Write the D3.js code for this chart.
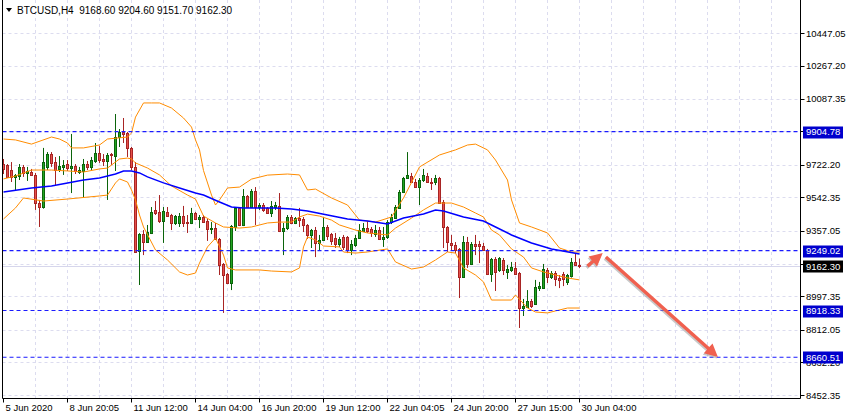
<!DOCTYPE html>
<html>
<head>
<meta charset="utf-8">
<script src="https://cdn.jsdelivr.net/npm/d3@7"></script>
<style>
  body { margin: 0; background: #fff; }
  svg { display: block; font-family: "Liberation Sans", Arial, sans-serif; }
</style>
</head>
<body>
<script>
var w = 846;
var h = 419;

var title = "BTCUSD,H4  9168.60 9204.60 9151.70 9162.30";

// H4 bars: open, high, low, close
var candles = [
  [9726,9754,9671,9699],[9721,9726,9649,9655],[9693,9737,9627,9655],[9655,9671,9583,9666],
  [9660,9726,9638,9710],[9710,9721,9655,9677],[9677,9710,9633,9688],[9682,9699,9660,9666],
  [9666,9677,9473,9511],[9511,9528,9379,9489],[9489,9815,9480,9737],[9710,9792,9693,9781],
  [9781,9792,9710,9732],[9737,9765,9610,9693],[9699,9770,9682,9715],[9710,9748,9666,9721],
  [9726,9748,9688,9704],[9704,9892,9566,9715],[9715,9726,9671,9688],[9682,9710,9671,9693],
  [9688,9754,9544,9726],[9726,9743,9693,9710],[9710,9765,9693,9748],[9743,9842,9732,9787],
  [9787,9825,9732,9748],[9754,9781,9715,9743],[9743,9787,9528,9776],[9781,9787,9721,9776],
  [9770,10002,9688,9875],[9875,9919,9820,9903],[9903,9980,9842,9892],[9897,9903,9765,9815],
  [9815,9820,9693,9710],[9710,9737,9236,9241],[9246,9345,9059,9340],[9340,9362,9224,9296],
  [9296,9390,9291,9351],[9346,9489,9340,9462],[9473,9522,9445,9456],[9462,9555,9401,9412],
  [9412,9489,9291,9467],[9462,9489,9434,9440],[9445,9451,9362,9401],[9401,9445,9390,9440],
  [9401,9456,9379,9440],[9440,9495,9379,9401],[9406,9445,9346,9401],[9401,9484,9395,9456],
  [9456,9462,9417,9423],[9423,9445,9373,9434],[9434,9445,9401,9406],[9412,9423,9302,9368],
  [9368,9406,9340,9373],[9373,9401,9307,9313],[9313,9318,9114,9169],[9175,9180,8905,9114],
  [9120,9125,9064,9070],[9070,9390,9031,9384],[9379,9489,9357,9484],[9484,9489,9384,9390],
  [9390,9588,9384,9550],[9550,9555,9484,9489],[9489,9588,9484,9577],[9577,9599,9390,9489],
  [9489,9511,9473,9500],[9500,9511,9462,9473],[9484,9489,9451,9456],[9456,9522,9434,9495],
  [9489,9517,9473,9500],[9495,9566,9351,9357],[9357,9401,9224,9373],[9373,9445,9362,9434],
  [9434,9445,9395,9401],[9401,9434,9395,9428],[9428,9484,9379,9417],[9423,9434,9351,9390],
  [9390,9395,9313,9335],[9335,9368,9263,9362],[9362,9379,9213,9291],[9291,9335,9252,9307],
  [9307,9434,9302,9379],[9379,9390,9307,9329],[9340,9346,9280,9302],[9318,9346,9263,9285],
  [9285,9324,9269,9313],[9324,9335,9252,9269],[9324,9329,9235,9252],[9252,9307,9224,9285],
  [9280,9335,9269,9318],[9318,9395,9313,9362],[9357,9401,9351,9373],[9373,9412,9346,9357],
  [9368,9379,9324,9346],[9340,9390,9324,9362],[9362,9379,9307,9313],[9313,9379,9269,9324],
  [9324,9417,9313,9406],[9406,9451,9395,9434],[9428,9500,9425,9489],[9484,9583,9480,9572],
  [9572,9655,9566,9649],[9649,9792,9644,9666],[9660,9677,9622,9627],[9627,9644,9594,9599],
  [9599,9649,9500,9638],[9638,9699,9627,9666],[9660,9677,9622,9627],[9627,9649,9583,9622],
  [9627,9666,9610,9649],[9649,9655,9506,9511],[9517,9528,9263,9379],[9379,9384,9241,9296],
  [9291,9335,9252,9280],[9280,9296,9235,9252],[9258,9263,8987,9103],[9103,9329,9098,9296],
  [9296,9324,9153,9175],[9175,9296,9169,9285],[9285,9335,9224,9274],[9285,9302,9180,9274],
  [9274,9291,9246,9252],[9252,9258,9114,9120],[9120,9208,9076,9202],[9202,9213,9026,9131],
  [9142,9213,9131,9208],[9197,9208,9114,9142],[9131,9169,9092,9147],[9142,9186,9131,9158],
  [9153,9186,9114,9120],[9125,9131,8822,8932],[8932,8982,8888,8943],[8938,9031,8932,8971],
  [8971,8982,8932,8943],[8954,9087,8949,9048],[9042,9076,9026,9053],[9042,9175,9037,9147],
  [9142,9153,9070,9103],[9103,9136,9092,9125],[9125,9136,9053,9092],[9098,9114,9042,9087],
  [9120,9131,9053,9092],[9076,9120,9059,9114],[9109,9208,9100,9186],[9186,9230,9164,9169],
  [9168.60,9204.60,9151.70,9162.30]
];

// indicator lines as [bar, price]
var bbUpper = [[0,9864],[3,9859],[7,9836],[12,9875],[14,9864],[16,9842],[17,9815],[20,9815],
  [24,9831],[26,9864],[31,9875],[32,9897],[33,9985],[35,10063],[37,10063],[39,10063],[42,10035],
  [45,9980],[47,9930],[48,9859],[49,9804],[50,9690],[52,9555],[53,9500],[54,9528],[56,9594],
  [59,9599],[62,9643],[66,9665],[71,9671],[74,9666],[76,9583],[78,9588],[82,9539],[86,9500],
  [89,9417],[93,9406],[97,9434],[100,9539],[104,9710],[109,9776],[113,9804],[116,9831],
  [118,9836],[121,9804],[123,9748],[126,9638],[127,9528],[129,9401],[132,9379],[136,9346],
  [139,9263],[142,9241],[144,9241]];
var bbMiddle = [[0,9644],[3,9660],[7,9693],[12,9693],[16,9688],[20,9682],[24,9699],[26,9704],
  [29,9754],[31,9759],[32,9754],[33,9732],[36,9704],[39,9666],[42,9605],[46,9555],[48,9533],
  [50,9439],[53,9401],[55,9379],[59,9373],[62,9379],[66,9401],[69,9406],[72,9406],[74,9434],
  [76,9450],[79,9439],[82,9417],[84,9390],[88,9362],[91,9346],[96,9335],[98,9373],[102,9428],
  [105,9473],[108,9511],[112,9511],[115,9489],[118,9456],[120,9434],[122,9362],[124,9335],
  [127,9258],[130,9213],[132,9153],[135,9131],[138,9114],[141,9098],[144,9087]];
var bbLower = [[0,9423],[3,9484],[5,9539],[10,9522],[16,9533],[24,9550],[26,9555],[28,9622],
  [29,9644],[31,9627],[32,9583],[33,9528],[34,9445],[35,9379],[38,9252],[41,9197],[44,9131],
  [46,9114],[48,9125],[49,9180],[51,9269],[53,9318],[55,9224],[56,9153],[58,9142],[64,9142],
  [67,9136],[72,9131],[74,9153],[75,9269],[76,9324],[78,9307],[80,9274],[84,9269],[85,9241],
  [88,9235],[91,9241],[96,9258],[98,9186],[102,9147],[105,9158],[108,9197],[111,9241],
  [113,9235],[115,9153],[118,9114],[120,9076],[122,8976],[127,8976],[128,9004],[131,8932],
  [133,8910],[136,8905],[138,8916],[141,8932],[144,8932]];
var maLine = [[0,9572],[7,9594],[12,9605],[16,9622],[20,9638],[24,9649],[28,9671],[30,9688],
  [32,9688],[34,9677],[36,9655],[40,9622],[44,9594],[48,9566],[50,9555],[54,9517],[57,9489],
  [60,9484],[64,9484],[68,9484],[72,9478],[76,9467],[81,9445],[86,9423],[91,9412],[96,9395],
  [100,9428],[105,9451],[108,9473],[110,9467],[115,9434],[120,9412],[122,9390],[127,9335],
  [132,9291],[137,9258],[144,9230]];

// 9907.50 sits fully under the 9904.78 box, so only its grid line shows
var priceTicks = [10447.05, 10267.20, 10087.35, 9907.50, 9722.20, 9542.35, 9357.05,
  9177.20, 8997.35, 8812.05, 8632.20, 8452.35];
var hiddenTicks = [9907.50];
var levels = [9904.78, 9249.02, 8918.33, 8660.51];
var lastPrice = 9162.30;

var dateBars = [0, 16, 32, 48, 64, 80, 96, 112, 128, 144];
var dateLabels = ["5 Jun 2020", "8 Jun 20:05", "11 Jun 12:00", "14 Jun 04:00", "16 Jun 20:00",
  "19 Jun 12:00", "22 Jun 04:05", "24 Jun 20:00", "27 Jun 15:00", "30 Jun 04:00"];

// hand-drawn arrows, [bar, price] from -> to
var arrows = [
  [[146, 9163], [149.8, 9235]],
  [[150.6, 9213], [178.6, 8662]]
];

var x = d3.scaleLinear().domain([0, 199]).range([3.5, 799.5]);
var y = d3.scaleLinear().domain([8452.35, 10447.05]).range([395, 33.3]);

var plotRight = 800.5, plotBottom = 398.5, plotLeft = 2.5;

var svg = d3.select("body").append("svg")
    .attr("width", w)
    .attr("height", h);

svg.append("defs").append("clipPath").attr("id", "plot")
  .append("rect").attr("x", plotLeft).attr("y", 0)
  .attr("width", plotRight - plotLeft).attr("height", plotBottom);

// grid
var grid = svg.append("g").attr("stroke", "#dcdcef").attr("stroke-dasharray", "3,3");
grid.selectAll("line.v")
  .data(d3.range(8, 200, 8))
  .enter().append("line")
  .attr("x1", d => x(d)).attr("x2", d => x(d))
  .attr("y1", 0).attr("y2", plotBottom);
grid.selectAll("line.h")
  .data(priceTicks)
  .enter().append("line")
  .attr("x1", plotLeft).attr("x2", plotRight)
  .attr("y1", d => Math.round(y(d)) + 0.5).attr("y2", d => Math.round(y(d)) + 0.5);

// bid line
svg.append("line")
  .attr("x1", plotLeft).attr("x2", plotRight)
  .attr("y1", Math.round(y(lastPrice)) + 0.5).attr("y2", Math.round(y(lastPrice)) + 0.5)
  .attr("stroke", "#d6d6ec");

var plot = svg.append("g").attr("clip-path", "url(#plot)");

// candles
var bar = plot.selectAll("g.bar")
  .data(candles)
  .enter().append("g");

bar.append("line")
  .attr("x1", (d, i) => x(i)).attr("x2", (d, i) => x(i))
  .attr("y1", d => y(d[1])).attr("y2", d => y(d[2]))
  .attr("stroke", d => d[3] >= d[0] ? "#0b640b" : "#a82424");

bar.append("rect")
  .attr("x", (d, i) => x(i) - 1)
  .attr("width", 2)
  .attr("y", d => Math.round(y(Math.max(d[0], d[3]))) + 0.5)
  .attr("height", d => Math.max(Math.round(y(Math.min(d[0], d[3]))) - Math.round(y(Math.max(d[0], d[3]))), 1))
  .attr("fill", d => d[3] >= d[0] ? "#22a622" : "#e5504a")
  .attr("stroke", d => d[3] >= d[0] ? "#0b640b" : "#a82424");

// indicators
var line = d3.line().x(d => x(d[0])).y(d => y(d[1]));

[bbUpper, bbMiddle, bbLower].forEach(function(s) {
  plot.append("path")
    .attr("d", line(s))
    .attr("fill", "none")
    .attr("stroke", "#ff8c00")
    .attr("stroke-width", 1);
});

plot.append("path")
  .attr("d", line(maLine))
  .attr("fill", "none")
  .attr("stroke", "#0000ff")
  .attr("stroke-width", 1.5);

// horizontal levels
plot.selectAll("line.level")
  .data(levels)
  .enter().append("line")
  .attr("x1", plotLeft).attr("x2", plotRight)
  .attr("y1", d => y(d)).attr("y2", d => y(d))
  .attr("stroke", "#1a1aff")
  .attr("stroke-width", 1.2)
  .attr("stroke-dasharray", "4,3");

// arrows
function arrowPath(a) {
  var x1 = x(a[0][0]), y1 = y(a[0][1]), x2 = x(a[1][0]), y2 = y(a[1][1]);
  var ang = Math.atan2(y2 - y1, x2 - x1);
  var hl = 13, hw = 6.5, sw = 1.7;
  var bx = x2 - hl * Math.cos(ang), by = y2 - hl * Math.sin(ang);
  var nx = -Math.sin(ang), ny = Math.cos(ang);
  return "M" + (x1 + nx * sw) + "," + (y1 + ny * sw) +
    "L" + (bx + nx * sw) + "," + (by + ny * sw) +
    "L" + (bx + nx * hw) + "," + (by + ny * hw) +
    "L" + x2 + "," + y2 +
    "L" + (bx - nx * hw) + "," + (by - ny * hw) +
    "L" + (bx - nx * sw) + "," + (by - ny * sw) +
    "L" + (x1 - nx * sw) + "," + (y1 - ny * sw) + "Z";
}
arrows.forEach(function(a) {
  plot.append("path").attr("d", arrowPath(a))
    .attr("transform", "translate(-1,1.5)")
    .attr("fill", "#9a9a9a").attr("opacity", 0.55);
  plot.append("path").attr("d", arrowPath(a))
    .attr("fill", "#f0604f");
});

// frame
svg.append("path")
  .attr("d", "M" + plotLeft + ",0V" + plotBottom + "H" + plotRight + "V0")
  .attr("fill", "none")
  .attr("stroke", "#000");

// right axis
var ra = svg.append("g");
ra.selectAll("line")
  .data(priceTicks)
  .enter().append("line")
  .attr("x1", plotRight).attr("x2", plotRight + 4)
  .attr("y1", d => Math.round(y(d)) + 0.5).attr("y2", d => Math.round(y(d)) + 0.5)
  .attr("stroke", "#000");
ra.selectAll("text")
  .data(priceTicks.filter(d => hiddenTicks.indexOf(d) < 0))
  .enter().append("text")
  .attr("x", 806)
  .attr("y", d => y(d) + 3.5)
  .attr("font-size", 9.5)
  .attr("fill", "#000")
  .text(d => d.toFixed(2));

// level labels
var boxes = levels.map(v => ({v: v, bg: "#0000cd"})).concat([{v: lastPrice, bg: "#000"}]);
var lb = svg.selectAll("g.lbl")
  .data(boxes)
  .enter().append("g");
lb.append("rect")
  .attr("x", 803).attr("width", 40)
  .attr("y", d => Math.round(y(d.v)) - 5.5).attr("height", 12)
  .attr("fill", d => d.bg);
lb.append("text")
  .attr("x", 806)
  .attr("y", d => y(d.v) + 3.5)
  .attr("font-size", 9.5)
  .attr("fill", "#fff")
  .text(d => d.v.toFixed(2));

// bottom axis
var ba = svg.append("g");
ba.selectAll("line")
  .data(dateBars)
  .enter().append("line")
  .attr("x1", d => x(d)).attr("x2", d => x(d))
  .attr("y1", plotBottom).attr("y2", plotBottom + 4)
  .attr("stroke", "#000");
ba.selectAll("text")
  .data(dateBars)
  .enter().append("text")
  .attr("x", d => x(d) + 2)
  .attr("y", 411)
  .attr("font-size", 9.5)
  .attr("fill", "#000")
  .text((d, i) => dateLabels[i]);

// title
svg.append("path")
  .attr("d", "M6,8H12L9,12Z")
  .attr("fill", "#000");
svg.append("text")
  .attr("x", 17).attr("y", 14)
  .attr("font-size", 10)
  .attr("fill", "#000")
  .attr("xml:space", "preserve")
  .style("white-space", "pre")
  .text(title);
</script>
</body>
</html>
